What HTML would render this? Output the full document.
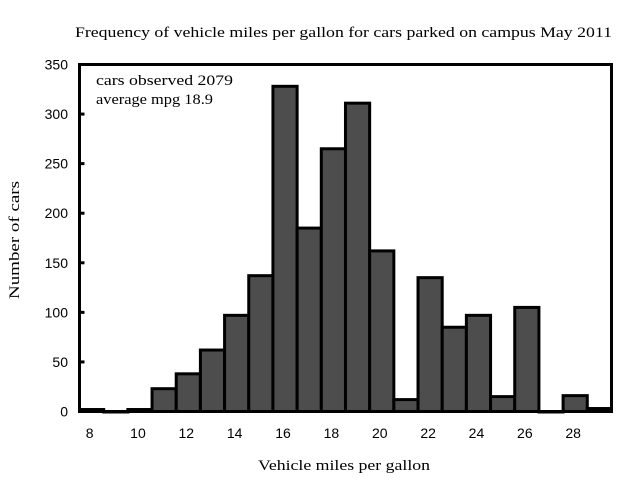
<!DOCTYPE html>
<html><head><meta charset="utf-8"><style>
body{margin:0;background:#fff;}
svg text{font-family:"Liberation Serif",serif;fill:#000;}
svg text.tk{font-family:"Liberation Sans",sans-serif;}
</style></head><body>
<svg width="640" height="480">
<text x="75" y="37" font-size="15" textLength="537" lengthAdjust="spacingAndGlyphs">Frequency of vehicle miles per gallon for cars parked on campus May 2011</text>
<g id="bars"></g>
<rect x="79.5" y="64.5" width="532" height="347" fill="none" stroke="#000" stroke-width="3"/>
<g id="yticks"></g><g id="xticks"></g>
<text x="96" y="85" font-size="15" textLength="137" lengthAdjust="spacingAndGlyphs">cars observed 2079</text>
<text x="96" y="104" font-size="15" textLength="117" lengthAdjust="spacingAndGlyphs">average mpg 18.9</text>
<text x="258" y="470" font-size="15" textLength="172" lengthAdjust="spacingAndGlyphs">Vehicle miles per gallon</text>
<text transform="translate(19,299) rotate(-90)" font-size="15" textLength="118" lengthAdjust="spacingAndGlyphs">Number of cars</text>
</svg>
<script>
const mpgBins=[8,9,10,11,12,13,14,15,16,17,18,19,20,21,22,23,24,25,26,27,28,29];
const carCounts=[2,0,2,23,38,62,97,137,328,185,265,311,162,12,135,85,97,15,105,0,16,3];
const yTickLabels=[0,50,100,150,200,250,300,350];
const xTickLabels=[8,10,12,14,16,18,20,22,24,26,28];
const NS="http://www.w3.org/2000/svg";
const x0=79.5,bw=24.18,y0=411.5,yTop=64.5;
const X=v=>x0+(v-7.5)*bw;
const Y=v=>y0-(v/350)*(y0-yTop);
const bars=document.getElementById('bars');
mpgBins.forEach((b,i)=>{
 const r=document.createElementNS(NS,'rect');
 const h=y0-Y(carCounts[i]);
 r.setAttribute('x',X(b-0.5));r.setAttribute('y',Y(carCounts[i]));
 r.setAttribute('width',bw);r.setAttribute('height',Math.max(h,0.5));
 r.setAttribute('fill','#4d4d4d');r.setAttribute('stroke','#000');r.setAttribute('stroke-width','3');
 
 
 bars.appendChild(r);
});
const yt=document.getElementById('yticks');
yTickLabels.forEach(v=>{
 const t=document.createElementNS(NS,'text');
 t.setAttribute('class','tk');
 t.setAttribute('x',68);t.setAttribute('y',Y(v)+5);t.setAttribute('font-size','14');t.setAttribute('text-anchor','end');
 t.textContent=v;
 
 
 yt.appendChild(t);
 const l=document.createElementNS(NS,'line');
 l.setAttribute('x1',x0);l.setAttribute('x2',x0+5);l.setAttribute('y1',Y(v));l.setAttribute('y2',Y(v));
 l.setAttribute('stroke','#000');l.setAttribute('stroke-width','3');
 
 
 yt.appendChild(l);
});
const xt=document.getElementById('xticks');
xTickLabels.forEach(v=>{
 const t=document.createElementNS(NS,'text');
 t.setAttribute('class','tk');
 t.setAttribute('x',X(v)-2);t.setAttribute('y',438);t.setAttribute('font-size','14');t.setAttribute('text-anchor','middle');
 t.textContent=v;
 
 
 xt.appendChild(t);
});
</script>
</body></html>
